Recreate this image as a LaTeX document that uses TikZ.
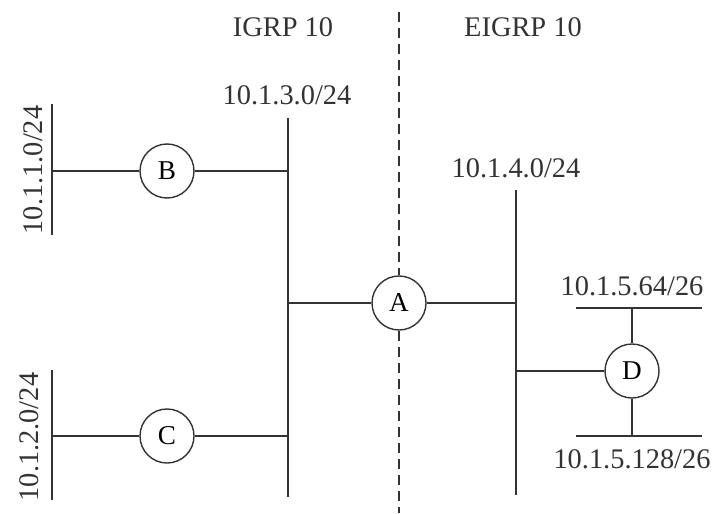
\documentclass[tikz,border=0pt]{standalone}
\usepackage{fontspec}
\setmainfont{Liberation Serif}
\definecolor{linegray}{gray}{0.2}
\begin{document}
\begin{tikzpicture}[x=0.5pt,y=-0.5pt,
    router/.style={circle,draw=linegray,line width=0.7pt,minimum size=27pt,inner sep=0pt,fill=white,font=\fontsize{13.6}{16}\selectfont},
    lbl/.style={anchor=base,inner sep=0pt,text=linegray,font=\fontsize{14.2}{17}\selectfont},
    wire/.style={draw=linegray,line width=0.7pt}]
    \useasboundingbox (0,0) rectangle (715,513);

    % routers
    \node[router] (B) at (167,171) {B};
    \node[router] (C) at (167,436) {C};
    \node[router] (A) at (399,303) {A};
    \node[router] (D) at (632,371) {D};

    % segment ends
    \coordinate (n1top) at (52,104);
    \coordinate (n1bot) at (52,235);
    \coordinate (n1B) at (52,171);
    \coordinate (n2top) at (52,370);
    \coordinate (n2bot) at (52,500);
    \coordinate (n2C) at (52,436);
    \coordinate (n3top) at (288,118);
    \coordinate (n3bot) at (288,497);
    \coordinate (n3B) at (288,171);
    \coordinate (n3A) at (288,303);
    \coordinate (n3C) at (288,436);
    \coordinate (n4top) at (516,190);
    \coordinate (n4bot) at (516,495);
    \coordinate (n4A) at (516,303);
    \coordinate (n4D) at (516,371);
    \coordinate (n5l) at (576,308);
    \coordinate (n5r) at (702,308);
    \coordinate (n5D) at (632,308);
    \coordinate (n6l) at (576,436);
    \coordinate (n6r) at (702,436);
    \coordinate (n6D) at (632,436);
    \coordinate (sepTop) at (399,12);
    \coordinate (sepBot) at (399,513);

    % domain border
    \draw[linegray,line width=0.7pt,dash pattern=on 5 off 3] (sepTop) -- (A.north);
    \draw[linegray,line width=0.7pt,dash pattern=on 5 off 3] (A.south) -- (sepBot);

    % segments
    \draw[wire] (n1top) -- (n1bot);
    \draw[wire] (n2top) -- (n2bot);
    \draw[wire] (n3top) -- (n3bot);
    \draw[wire] (n4top) -- (n4bot);
    \draw[wire] (n5l) -- (n5r);
    \draw[wire] (n6l) -- (n6r);

    % links
    \draw[wire] (n1B) -- (B) -- (n3B);
    \draw[wire] (n2C) -- (C) -- (n3C);
    \draw[wire] (n3A) -- (A) -- (n4A);
    \draw[wire] (n4D) -- (D);
    \draw[wire] (n5D) -- (D) -- (n6D);

    % labels
    \node[lbl] (igrp) at (283,37) {IGRP 10};
    \node[lbl] (eigrp) at (523,37) {EIGRP 10};
    \node[lbl] (net3) at (287,105) {10.1.3.0/24};
    \node[lbl] (net4) at (516,177) {10.1.4.0/24};
    \node[lbl] (net5) at (632,295) {10.1.5.64/26};
    \node[lbl] (net6) at (632,468) {10.1.5.128/26};
    \node[lbl,rotate=90] (net1) at (42,170) {10.1.1.0/24};
    \node[lbl,rotate=90] (net2) at (38,437) {10.1.2.0/24};
\end{tikzpicture}
\end{document}
